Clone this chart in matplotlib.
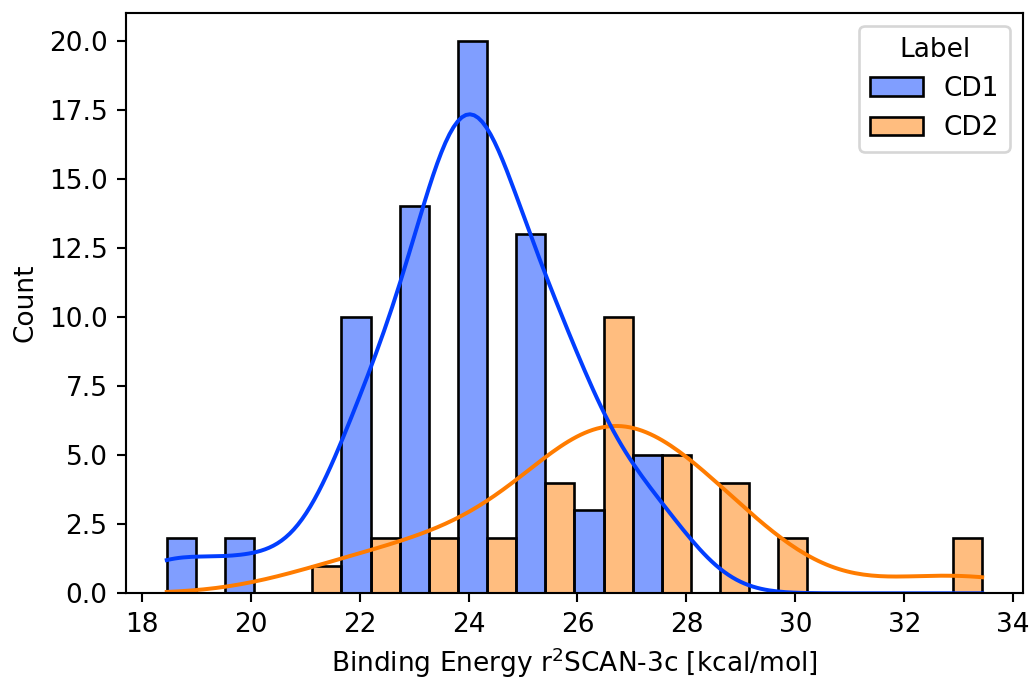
import matplotlib
matplotlib.use("Agg")
import matplotlib.pyplot as plt
import seaborn as sns
import pandas as pd

# Estimated individual binding energies (kcal/mol) per group
cd1_values = [18.46, 18.60,
              19.90, 20.30,
              21.70, 21.78, 21.86, 21.95, 22.05, 22.15, 22.25, 22.35, 22.47, 22.60,
              22.92, 23.02, 23.10, 23.18, 23.26, 23.33, 23.40, 23.47, 23.53, 23.59,
              23.65, 23.70, 23.75, 23.80,
              23.83, 23.87, 23.91, 23.95, 23.99, 24.03, 24.07, 24.11, 24.14, 24.17,
              24.20, 24.23, 24.27, 24.31, 24.35, 24.40, 24.46, 24.53, 24.62, 24.74,
              24.95, 25.05, 25.15, 25.25, 25.35, 25.44, 25.52, 25.60, 25.67, 25.74,
              25.80, 25.86, 25.92,
              26.05, 26.25, 26.55,
              27.05, 27.15, 27.30, 27.50, 27.85]
cd2_values = [21.10,
              22.00, 22.50,
              23.30, 23.70,
              24.00, 24.50,
              24.95, 25.20, 25.45, 25.70,
              26.00, 26.10, 26.20, 26.30, 26.40, 26.50, 26.60, 26.70, 26.80, 26.90,
              27.10, 27.30, 27.50, 27.70, 27.90,
              28.15, 28.35, 28.55, 28.80,
              29.20, 29.45,
              32.40, 33.43]
labels = ["CD1", "CD2"]
n_bins = 14

df = pd.DataFrame({
    "Energy": cd1_values + cd2_values,
    "Label": [labels[0]] * len(cd1_values) + [labels[1]] * len(cd2_values),
})

dpi = 190
fig = plt.figure(figsize=(1031 / dpi, 680 / dpi), dpi=dpi)
ax = fig.add_axes([0.1222, 0.1275, 0.9922 - 0.1222, 0.981 - 0.1275])

sns.histplot(data=df, x="Energy", hue="Label", bins=n_bins, kde=True,
             multiple="dodge", palette="bright", edgecolor="black",
             linewidth=1.0, ax=ax)

ax.set_xlabel("Binding Energy r$^2$SCAN-3c [kcal/mol]", labelpad=3)
ax.set_ylabel("Count")

fig.savefig("out.png", dpi=dpi)
